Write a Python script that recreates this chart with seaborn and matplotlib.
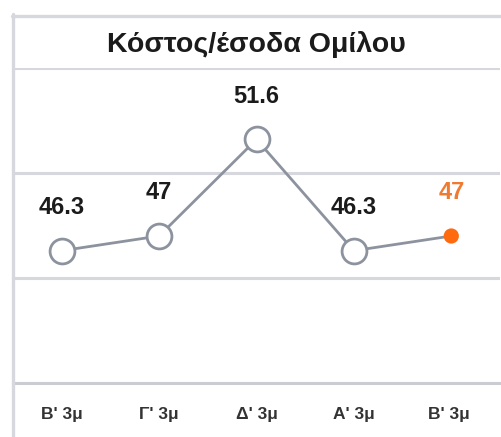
import matplotlib
matplotlib.use("Agg")
import matplotlib.pyplot as plt
from matplotlib.lines import Line2D
import seaborn as sns
import pandas as pd

# data
quarters = ["Β' 3μ", "Γ' 3μ", "Δ' 3μ", "Α' 3μ", "Β' 3μ "]
values = [46.3, 47, 51.6, 46.3, 47]
labels = ["46.3", "47", "51.6", "46.3", "47"]
title = "Κόστος/έσοδα Ομίλου"

GRID = "#d6d8dd"
AXIS = "#c9ccd3"
LINE = "#8d939e"
ORG = "#ff6a0f"
TXT = "#1b1b1b"

sns.set_style("white")
plt.rcParams["font.family"] = ["Liberation Sans", "DejaVu Sans"]

W, H = 502, 437
fig = plt.figure(figsize=(W / 100, H / 100), dpi=100, facecolor="white")
ax = fig.add_axes([13 / W, (H - 383) / H, (500 - 13) / W, (383 - 68) / H])

df = pd.DataFrame({"q": range(len(values)), "v": values})
sns.lineplot(data=df, x="q", y="v", ax=ax, color=LINE, lw=2, zorder=2)
ax.scatter(df["q"][:-1], df["v"][:-1], s=320, facecolor="white",
           edgecolor=LINE, linewidth=2, zorder=3)
ax.scatter(df["q"].iloc[-1:], df["v"].iloc[-1:], s=120, color=ORG,
           edgecolor="none", zorder=3)

for i, (v, lab) in enumerate(zip(values, labels)):
    ax.annotate(lab, (i, v), xytext=(0, 31), textcoords="offset points",
                ha="center", va="center", fontsize=17, fontweight="bold",
                color="#f07a30" if i == len(values) - 1 else TXT)

ax.set_xlim(-0.5, len(values) - 0.5)
ax.set_ylim(40, 55)
ax.set_yticks([45, 50, 55])
ax.yaxis.grid(True, color=GRID, lw=2.2)
ax.set_yticklabels([])
ax.tick_params(axis="y", length=0)
ax.set_xticks(range(len(values)))
ax.set_xticklabels(quarters, fontsize=12.5, fontweight="bold", color="#333333")
ax.tick_params(axis="x", length=0, pad=17)
ax.set_xlabel("")
ax.set_ylabel("")
for s in ["top", "right", "left"]:
    ax.spines[s].set_visible(False)
ax.spines["bottom"].set_color(AXIS)
ax.spines["bottom"].set_linewidth(2.2)

# chart frame and title
fig.add_artist(Line2D([13 / W, 13 / W], [0, 1 - 14 / H], color=GRID, lw=2.4))
fig.add_artist(Line2D([12 / W, 1], [1 - 15.5 / H, 1 - 15.5 / H], color=GRID, lw=2.4))
fig.text(256 / W, 1 - 44 / H, title, ha="center", va="center",
         fontsize=20.5, fontweight="bold", color=TXT)

fig.savefig("out.png", dpi=100, facecolor="white")
